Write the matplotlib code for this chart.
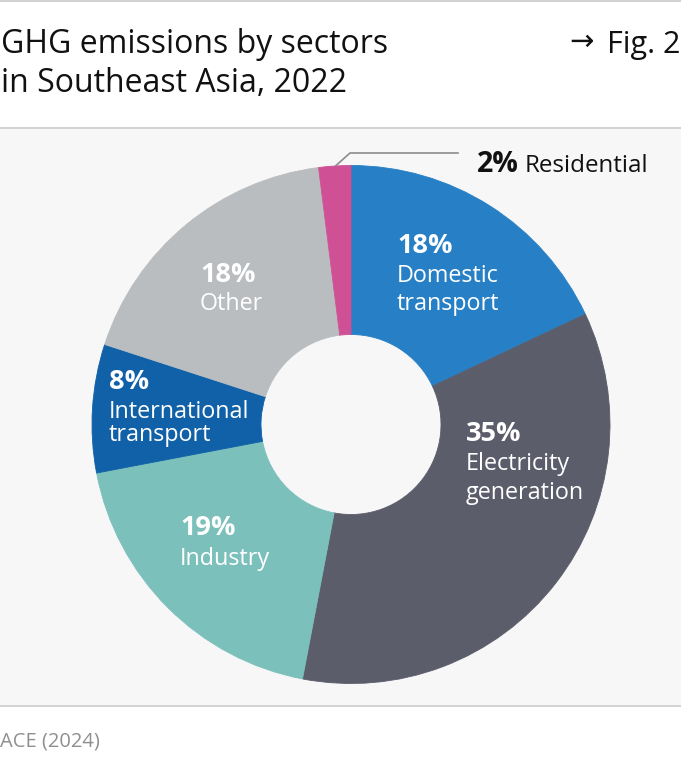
import matplotlib
matplotlib.use("Agg")
import matplotlib.pyplot as plt
from matplotlib.patches import Rectangle

# ---- data ----
sectors = ["Domestic\ntransport", "Electricity\ngeneration", "Industry",
           "International\ntransport", "Other", "Residential"]
shares = [18, 35, 19, 8, 18, 2]
colors = ["#2780c5", "#5c5d6b", "#7cc0bc", "#1061a7", "#b9bdbf", "#d05095"]
title_lines = ["GHG emissions by sectors", "in Southeast Asia, 2022"]
fig_tag = ["\u2192", "Fig. 2"]
source = "ACE (2024)"

W, H = 681, 774
FONT = "Open Sans"
plt.rcParams["font.family"] = [FONT, "DejaVu Sans"]

fig = plt.figure(figsize=(W / 100, H / 100), dpi=100)
fig.patch.set_facecolor("white")
ax = fig.add_axes([0, 0, 1, 1])


def py(y):
    return H - y


# background panel and rules
ax.add_patch(Rectangle((0, py(706)), W, 706 - 128, facecolor="#f7f7f7",
                       edgecolor="none", zorder=0))
for yy in (1, 127.5, 706):
    ax.plot([0, W], [py(yy), py(yy)], color="#d2d2d2", lw=1.4, zorder=1,
            solid_capstyle="butt")

# donut
cx, cy, R, r = 351, py(424.5), 259, 90
wedges, _ = ax.pie(shares, colors=colors, startangle=90, counterclock=False,
                   radius=R, center=(cx, cy),
                   wedgeprops=dict(width=R - r, linewidth=0.6))
for w, c in zip(wedges, colors):
    w.set_edgecolor(c)
ax.set_xlim(0, W)
ax.set_ylim(0, H)
ax.set_aspect("auto")
ax.axis("off")

# labels inside slices: (x, pct baseline, line baselines)
label_pos = {
    0: (397, 253, [282, 310]),
    1: (466, 441, [470, 499]),
    2: (180, 535, [565]),
    3: (109, 389, [418, 441]),
    4: (200, 282, [310]),
}
for i, (x, yb, lines) in label_pos.items():
    ax.text(x, py(yb), f"{shares[i]}%", color="white", fontsize=19.5,
            fontweight="bold", ha="left", va="baseline", zorder=5)
    for txt, yl in zip(sectors[i].split("\n"), lines):
        ax.text(x, py(yl), txt, color="white", fontsize=16.8,
                ha="left", va="baseline", zorder=5)

# residential callout
ax.plot([336, 350, 458], [py(165.5), py(153), py(153)], color="#8c8c8c",
        lw=1.2, zorder=4)
ax.text(477, py(172), f"{shares[5]}%", color="#111111", fontsize=20.5,
        fontweight="bold", ha="left", va="baseline")
ax.text(525, py(172), sectors[5], color="#111111", fontsize=17.4,
        ha="left", va="baseline")

# titles
ax.text(1, py(53), title_lines[0], fontsize=23, color="#111111",
        ha="left", va="baseline")
ax.text(1, py(92), title_lines[1], fontsize=23, color="#111111",
        ha="left", va="baseline")
ax.text(680, py(53), fig_tag[1], fontsize=22, color="#111111",
        ha="right", va="baseline")
ax.text(569, py(49.5), fig_tag[0], fontsize=21, color="#111111",
        ha="left", va="baseline")

# source
ax.text(0, py(747), source, fontsize=14.5, color="#8f8f8f",
        ha="left", va="baseline")

fig.savefig("out.png", dpi=100, facecolor="white")
